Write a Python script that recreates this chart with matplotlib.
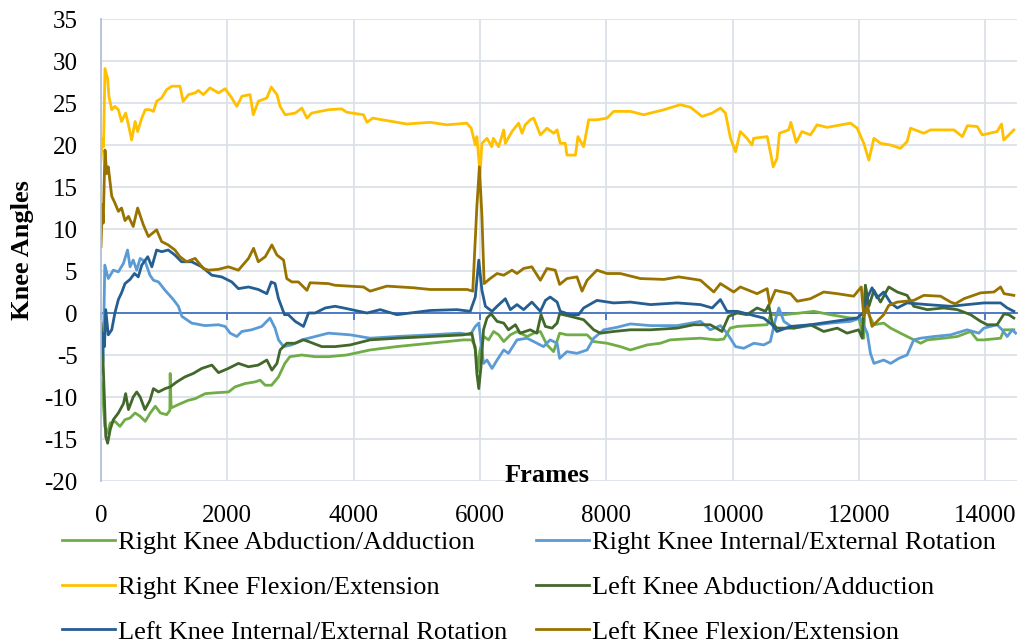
import matplotlib
matplotlib.use('Agg')
import matplotlib.pyplot as plt
import numpy as np

# knee angle traces, (frame, angle) pairs
right_abd = [(0, -8.0), (20, -8.8), (60, -13.5), (105, -14.3), (145, -13.1), (220, -12.9), (300, -13.5),
             (380, -12.7), (460, -12.5), (540, -11.9), (620, -12.3), (700, -12.9), (780, -11.9), (860, -11.1),
             (940, -11.9), (1040, -12.1), (1090, -11.6), (1095, -7.2), (1110, -11.3), (1225, -10.9),
             (1380, -10.4), (1490, -10.2), (1650, -9.6), (1810, -9.5), (2020, -9.4), (2120, -8.8),
             (2280, -8.4), (2440, -8.2), (2520, -8.0), (2600, -8.6), (2700, -8.6), (2810, -7.6), (2910, -6.0),
             (2990, -5.2), (3180, -5.0), (3390, -5.2), (3600, -5.2), (3890, -5.0), (4260, -4.4), (4680, -4.0),
             (5210, -3.6), (5740, -3.2), (5870, -3.2), (5925, -4.0), (5960, -7.0), (6000, -4.4), (6060, -2.8),
             (6135, -3.2), (6215, -2.2), (6295, -2.6), (6375, -3.4), (6480, -2.6), (6585, -2.2), (6745, -2.8),
             (6850, -2.4), (6955, -2.2), (7060, -3.8), (7165, -4.6), (7260, -2.4), (7375, -2.6), (7535, -2.6),
             (7695, -2.6), (7800, -3.4), (8010, -3.6), (8220, -4.0), (8380, -4.4), (8645, -3.8), (8855, -3.6),
             (9010, -3.2), (9225, -3.1), (9490, -3.0), (9750, -3.2), (9860, -3.1), (9960, -1.8), (10070, -1.6),
             (10280, -1.5), (10545, -1.4), (10600, -0.2), (10810, -0.2), (11070, 0.0), (11285, 0.2),
             (11545, -0.2), (11865, -0.6), (11995, -0.6), (12075, -3.0), (12100, 3.3), (12155, -0.2),
             (12235, -1.4), (12390, -1.2), (12500, -1.8), (12655, -2.4), (12815, -3.0), (12975, -3.6),
             (13080, -3.2), (13340, -3.0), (13555, -2.8), (13765, -2.2), (13870, -3.2), (13975, -3.2),
             (14240, -3.0), (14295, -2.0), (14450, -2.0)]

right_rot = [(0, -7.2), (35, -5.6), (60, 5.7), (115, 4.1), (195, 5.1), (275, 4.9), (355, 5.9), (420, 7.5),
             (460, 5.5), (510, 6.3), (565, 5.1), (620, 6.5), (700, 6.1), (775, 4.5), (830, 3.9), (910, 3.7),
             (1015, 2.7), (1145, 1.6), (1225, 0.8), (1280, -0.4), (1435, -1.2), (1645, -1.5), (1860, -1.4),
             (1965, -1.6), (2045, -2.4), (2150, -2.8), (2230, -2.2), (2385, -2.0), (2545, -1.6), (2675, -0.6),
             (2755, -1.8), (2810, -3.2), (2890, -4.0), (3020, -3.8), (3180, -3.2), (3390, -2.8), (3600, -2.4),
             (3945, -2.6), (4260, -3.0), (4685, -2.8), (5210, -2.6), (5685, -2.4), (5845, -2.6), (5925, -1.6),
             (5980, -1.2), (6005, -2.8), (6055, -6.0), (6110, -5.6), (6190, -6.6), (6270, -5.6), (6375, -4.4),
             (6450, -4.8), (6585, -3.2), (6745, -3.0), (6850, -3.4), (7005, -4.0), (7110, -3.2), (7220, -3.6),
             (7260, -5.4), (7375, -4.6), (7535, -4.8), (7695, -4.4), (7800, -3.0), (7960, -2.0), (8170, -1.7),
             (8380, -1.3), (8700, -1.5), (9120, -1.5), (9490, -1.0), (9645, -2.0), (9805, -1.5), (9910, -2.4),
             (10045, -4.0), (10175, -4.2), (10335, -3.6), (10490, -3.8), (10595, -3.4), (10675, -0.8),
             (10730, 0.6), (10810, -1.0), (10965, -1.8), (11230, -1.5), (11545, -1.2), (11865, -1.0),
             (12020, -0.6), (12130, -2.4), (12180, -4.8), (12235, -6.0), (12390, -5.6), (12500, -6.0),
             (12630, -5.4), (12760, -5.0), (12865, -3.2), (12975, -3.0), (13185, -2.8), (13450, -2.6),
             (13710, -2.0), (13895, -2.4), (13975, -1.8), (14185, -1.4), (14265, -2.0), (14345, -2.8),
             (14425, -2.0), (14480, -2.4)]

right_flex = [(0, 18.2), (20, 20.8), (40, 19.8), (63, 29.1), (105, 27.9), (125, 25.8), (170, 24.2), (220, 24.6),
              (275, 24.2), (325, 22.8), (390, 23.8), (435, 22.4), (485, 20.6), (540, 22.8), (580, 21.6),
              (645, 23.2), (700, 24.2), (775, 24.2), (830, 24.0), (880, 25.2), (960, 25.6), (1040, 26.6),
              (1120, 27.0), (1250, 27.0), (1300, 25.2), (1385, 26.0), (1490, 26.2), (1540, 26.5), (1620, 26.0),
              (1725, 26.8), (1860, 26.2), (1965, 26.7), (2070, 25.6), (2150, 24.6), (2230, 25.8), (2360, 26.0),
              (2410, 23.6), (2490, 25.2), (2625, 25.6), (2695, 26.9), (2785, 26.0), (2835, 24.6), (2915, 23.6),
              (3075, 23.8), (3180, 24.4), (3260, 23.2), (3335, 23.8), (3600, 24.2), (3810, 24.3), (3890, 23.9),
              (4155, 23.6), (4210, 22.7), (4300, 23.2), (4840, 22.5), (5210, 22.7), (5475, 22.4), (5790, 22.6),
              (5860, 22.0), (5925, 20.0), (5950, 21.0), (6000, 16.6), (6030, 20.2), (6110, 20.8), (6185, 19.8),
              (6210, 20.8), (6295, 19.8), (6375, 21.8), (6400, 20.2), (6505, 21.6), (6610, 22.6), (6665, 21.4),
              (6715, 22.4), (6795, 23.0), (6850, 23.2), (6955, 21.2), (7060, 22.0), (7165, 21.4), (7220, 21.8),
              (7270, 20.2), (7350, 20.2), (7375, 18.8), (7510, 18.8), (7550, 21.0), (7640, 19.8), (7720, 23.0),
              (7850, 23.0), (8010, 23.2), (8115, 24.0), (8380, 24.0), (8590, 23.6), (8910, 24.2), (9170, 24.8),
              (9330, 24.5), (9515, 23.4), (9675, 23.8), (9805, 24.4), (9885, 23.8), (9965, 20.8), (10045, 19.2),
              (10120, 21.6), (10225, 20.8), (10305, 20.0), (10330, 20.8), (10545, 21.0), (10600, 19.0),
              (10640, 17.4), (10700, 18.4), (10740, 21.4), (10885, 21.8), (10920, 22.7), (11005, 20.3),
              (11095, 21.6), (11230, 21.2), (11335, 22.4), (11495, 22.1), (11865, 22.6), (11970, 22.0),
              (12075, 20.2), (12155, 18.2), (12235, 20.8), (12340, 20.2), (12500, 20.0), (12655, 19.6),
              (12760, 20.4), (12815, 22.0), (13025, 21.4), (13130, 21.8), (13500, 21.8), (13635, 21.0),
              (13715, 22.3), (13870, 22.2), (13950, 21.2), (14185, 21.6), (14255, 22.5), (14290, 20.6),
              (14370, 21.2), (14450, 21.8)]

left_abd = [(0, -1.2), (20, -3.2), (55, -10.4), (75, -14.7), (105, -15.5), (145, -13.9), (195, -12.7),
            (275, -11.9), (355, -10.8), (390, -9.6), (435, -11.5), (510, -10.0), (565, -9.4), (620, -10.0),
            (695, -11.5), (775, -10.4), (830, -9.0), (910, -9.4), (1015, -9.0), (1095, -8.8), (1200, -8.2),
            (1330, -7.6), (1460, -7.2), (1595, -6.6), (1755, -6.2), (1860, -7.1), (2015, -6.6), (2175, -6.0),
            (2335, -6.4), (2490, -6.2), (2625, -5.6), (2705, -6.8), (2785, -6.0), (2835, -4.4), (2940, -3.6),
            (3075, -3.6), (3205, -3.2), (3285, -3.4), (3495, -4.0), (3705, -4.0), (3945, -3.8), (4260, -3.2),
            (4685, -3.0), (5210, -2.8), (5740, -2.6), (5870, -2.4), (5925, -4.4), (5950, -7.2), (5980, -9.0),
            (6015, -6.4), (6055, -2.0), (6110, -0.6), (6175, -0.1), (6270, -1.0), (6375, -1.2), (6450, -2.0),
            (6560, -1.4), (6635, -2.4), (6795, -2.0), (6900, -2.4), (6965, -0.2), (7035, -1.6), (7140, -1.8),
            (7220, -1.2), (7260, -0.1), (7430, -0.4), (7640, -0.8), (7800, -2.0), (7905, -2.4), (8115, -2.2),
            (8380, -2.0), (8700, -2.0), (9120, -1.8), (9380, -1.4), (9645, -1.4), (9830, -2.2), (9935, -0.4),
            (10070, 0.0), (10225, -0.2), (10385, 0.6), (10520, 0.2), (10570, 0.95), (10625, -1.2),
            (10700, -1.8), (10965, -1.8), (11230, -1.4), (11440, -2.2), (11655, -1.8), (11810, -2.4),
            (11995, -2.0), (12050, -3.0), (12100, 3.3), (12155, 0.8), (12235, 2.7), (12340, 1.3), (12470, 3.1),
            (12605, 2.5), (12760, 2.1), (12865, 0.8), (13080, 0.4), (13340, 0.6), (13555, 0.4), (13765, -0.2),
            (13925, -1.0), (14030, -1.4), (14185, -1.4), (14295, -0.1), (14370, -0.2), (14450, -0.6)]

left_rot = [(0, -5.2), (20, -2.4), (55, -4.0), (75, 0.4), (115, -2.6), (170, -2.0), (220, 0.0), (275, 1.6),
            (325, 2.4), (380, 3.5), (460, 4.0), (530, 4.7), (590, 4.3), (645, 5.7), (740, 6.7), (805, 5.5),
            (880, 7.5), (960, 7.3), (1065, 7.5), (1170, 6.9), (1275, 6.1), (1435, 6.1), (1595, 5.5), (1755, 4.5),
            (1910, 4.3), (2070, 3.7), (2175, 2.9), (2335, 3.1), (2490, 2.8), (2625, 2.3), (2695, 3.7),
            (2755, 3.5), (2810, 1.7), (2905, -0.2), (2965, -0.2), (3075, -1.0), (3205, -1.6), (3285, 0.0),
            (3390, 0.0), (3550, 0.6), (3705, 0.8), (3840, 0.6), (4210, 0.0), (4420, 0.4), (4685, -0.2),
            (5210, 0.3), (5635, 0.4), (5845, 0.2), (5925, 1.9), (5980, 6.3), (6030, 2.7), (6085, 0.8),
            (6190, 0.2), (6270, 0.8), (6400, 1.7), (6480, 0.4), (6585, 1.0), (6690, 0.4), (6820, 1.3),
            (6955, 0.2), (7035, 1.5), (7110, 1.9), (7220, 1.3), (7270, 0.2), (7430, -0.2), (7560, -0.2),
            (7640, 0.6), (7850, 1.5), (8115, 1.2), (8380, 1.3), (8700, 1.0), (9120, 1.2), (9490, 1.0),
            (9675, 0.6), (9805, 1.6), (9910, 0.2), (10070, 0.2), (10280, -0.2), (10490, -0.6), (10625, -1.4),
            (10700, -2.2), (10915, -1.6), (11230, -1.4), (11600, -1.0), (11970, -0.6), (12065, 0.0),
            (12130, 1.8), (12205, 3.0), (12285, 1.8), (12390, 2.5), (12500, 1.2), (12605, 0.6), (12760, 1.2),
            (13080, 1.0), (13450, 0.8), (13710, 1.0), (13975, 1.2), (14240, 1.2), (14345, 0.6), (14450, 0.2)]

left_flex = [(0, 7.9), (20, 12.9), (35, 10.7), (63, 19.4), (90, 16.6), (115, 17.4), (170, 13.9), (220, 13.1),
             (275, 12.1), (325, 12.5), (380, 11.0), (435, 11.5), (510, 10.3), (580, 12.5), (670, 10.5),
             (750, 9.1), (880, 9.9), (960, 8.5), (1065, 8.1), (1170, 7.5), (1250, 6.7), (1355, 6.1), (1490, 6.5),
             (1620, 5.3), (1700, 5.1), (1860, 5.2), (2015, 5.5), (2175, 5.1), (2335, 6.5), (2415, 7.7),
             (2490, 6.1), (2600, 6.7), (2705, 8.1), (2785, 6.9), (2890, 6.3), (2940, 4.1), (3020, 3.7),
             (3125, 3.7), (3260, 2.7), (3310, 3.6), (3600, 3.5), (3705, 3.3), (4155, 3.1), (4260, 2.6),
             (4525, 3.2), (4950, 3.0), (5210, 2.8), (5795, 2.8), (5885, 2.6), (5950, 12.7), (5990, 17.4),
             (6030, 11.5), (6065, 3.5), (6160, 4.1), (6270, 4.7), (6375, 4.5), (6505, 5.1), (6585, 4.7),
             (6690, 5.3), (6820, 5.5), (6955, 3.9), (7060, 5.3), (7190, 5.1), (7260, 3.4), (7375, 4.1),
             (7535, 4.3), (7615, 2.6), (7695, 3.9), (7850, 5.1), (8010, 4.7), (8220, 4.7), (8540, 4.1),
             (8910, 4.0), (9145, 4.3), (9490, 3.9), (9700, 2.5), (9805, 3.5), (10015, 2.5), (10120, 3.1),
             (10385, 2.3), (10545, 2.9), (10585, 1.1), (10675, 2.7), (10915, 2.3), (11020, 1.4), (11230, 1.7),
             (11440, 2.5), (11655, 2.3), (11915, 2.0), (12035, 3.1), (12075, -0.4), (12130, 0.8), (12205, -1.6),
             (12285, -1.0), (12390, -0.2), (12470, 0.9), (12605, 1.3), (12865, 1.5), (13025, 2.1), (13290, 2.0),
             (13450, 1.3), (13525, 1.1), (13660, 1.7), (13925, 2.4), (14135, 2.5), (14240, 3.1), (14295, 2.3),
             (14450, 2.1)]

series = [
    ('Right Knee Abduction/Adduction', right_abd, '#70AD47'),
    ('Right Knee Internal/External Rotation', right_rot, '#5B9BD5'),
    ('Right Knee Flexion/Extension', right_flex, '#FFC000'),
    ('Left Knee Abduction/Adduction', left_abd, '#43682B'),
    ('Left Knee Internal/External Rotation', left_rot, '#255E91'),
    ('Left Knee Flexion/Extension', left_flex, '#997300'),
]

plt.rcParams['font.family'] = ['Liberation Serif', 'DejaVu Serif']
plt.rcParams['axes.unicode_minus'] = False
fs = 18      # tick labels
fs_big = 19  # axis titles and legend

fig = plt.figure(figsize=(10.21, 6.43), dpi=100)
ax = fig.add_axes([101 / 1021, 1 - 481 / 643, (1017 - 101) / 1021, (481 - 19) / 643])

lines = []
for label, pts, col in series:
    arr = np.array(pts)
    ln, = ax.plot(arr[:, 0], arr[:, 1], color=col, lw=2.0, label=label, solid_joinstyle='round')
    lines.append(ln)

ax.set_xlim(0, 14500)
ax.set_ylim(-20, 35)
ax.set_yticks(np.arange(-20, 36, 5))
ax.set_xticks(np.arange(0, 14001, 2000))
ax.grid(True, color='#DCE0E8', lw=1.3)
ax.set_axisbelow(True)

for s in ['top', 'right']:
    ax.spines[s].set_visible(False)
ax.spines['left'].set_color('#B4C0D4')
ax.spines['left'].set_linewidth(1.3)
# horizontal axis crosses at zero, labels stay at the bottom
ax.spines['bottom'].set_position(('data', 0))
ax.spines['bottom'].set_color('#4472C4')
ax.spines['bottom'].set_linewidth(1.3)
ax.spines['bottom'].set_zorder(1.5)
ax.tick_params(axis='x', labelbottom=False, length=5, width=1.3, color='#4472C4', direction='out')
ax.tick_params(axis='y', length=0, pad=17, labelsize=fs)

sec = ax.secondary_xaxis(0)
sec.set_xticks(np.arange(0, 14001, 2000))
sec.tick_params(length=0, pad=17, labelsize=fs)
sec.spines['bottom'].set_visible(False)

fig.text(22 / 1021, 1 - 250 / 643, 'Knee Angles', rotation=90, fontsize=fs_big, fontweight='bold',
         ha='center', va='center')
fig.text(547 / 1021, 1 - 475 / 643, 'Frames', fontsize=fs_big, fontweight='bold', ha='center', va='center')

# legend is filled row by row in the reference
order = [0, 2, 4, 1, 3, 5]
fig.legend([lines[i] for i in order], [series[i][0] for i in order],
           loc='upper left', bbox_to_anchor=(62 / 1021, 1 - 531 / 643), ncol=2, frameon=False,
           fontsize=fs_big, handlelength=2.0, handletextpad=0.12, columnspacing=1.1, labelspacing=0.8,
           borderpad=0, borderaxespad=0)

fig.savefig('out.png', dpi=100)
